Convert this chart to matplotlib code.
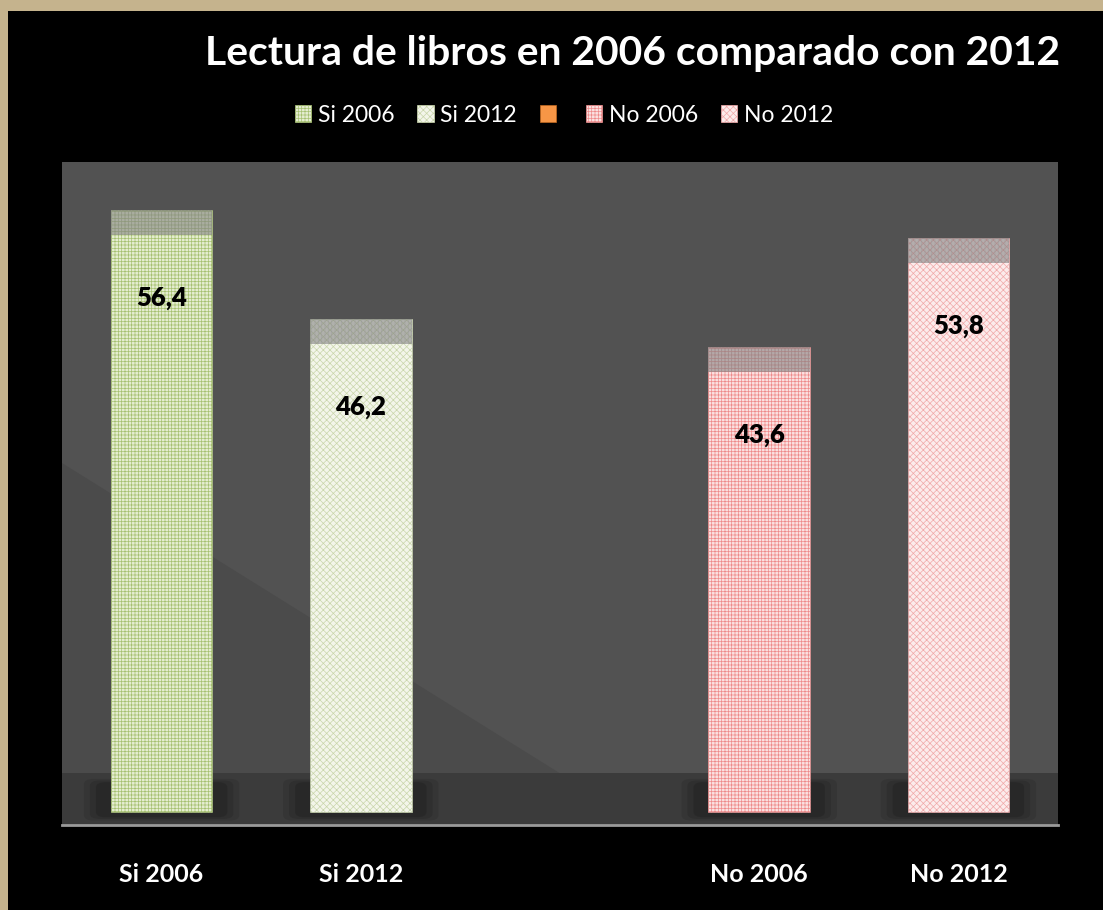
import matplotlib
matplotlib.use('Agg')
import matplotlib.pyplot as plt
from matplotlib.patches import Rectangle, Patch, Polygon, FancyBboxPatch

# data
categories = ['Si 2006', 'Si 2012', '', 'No 2006', 'No 2012']
values = [56.4, 46.2, None, 43.6, 53.8]
legend_labels = ['Si 2006', 'Si 2012', '', 'No 2006', 'No 2012']

face_colors = ['#e4edd0', '#f3f5ea', '#f79646', '#fbe0e0', '#fcebeb']
hatch_colors = ['#a6c070', '#c9d6ab', '#c46a20', '#ee8a8a', '#f0a8a8']
hatches = ['+++++', 'xxxxx', '', '+++++', 'xxxxx']

plt.rcParams['font.family'] = ['Lato', 'DejaVu Sans']
plt.rcParams['hatch.linewidth'] = 0.5

W, H = 1103, 910
fig = plt.figure(figsize=(W / 100, H / 100), dpi=100, facecolor='#c5b38d')

# black panel
fig.patches.append(Rectangle((8 / W, 0), 1 - 8 / W, (H - 11) / H,
                             transform=fig.transFigure, facecolor='black',
                             edgecolor='none', zorder=-10))

ax = fig.add_axes([62 / W, (H - 825) / H, 996 / W, 663 / H])
ax.set_zorder(1)
ax.set_facecolor('#525252')
ax.set_xlim(-0.5, len(categories) - 0.5)
ax.set_ylim(-1.22, 60.9)

# darker diagonal shading and floor
ax.add_patch(Polygon([(0, 0.546), (0.5, 0.078), (0, 0.078)], closed=True,
                     transform=ax.transAxes, facecolor='#4b4b4b',
                     edgecolor='none', zorder=0))
ax.axhspan(-1.22, 3.65, color='#3b3b3b', zorder=0.5, lw=0)

bar_w = 0.51
cap = 2.34
for i, v in enumerate(values):
    if v is None:
        continue
    # soft shadow on the floor
    for k, a in enumerate([0.25, 0.35, 0.55]):
        grow = 0.03 * (2 - k)
        ax.add_patch(FancyBboxPatch((i - 0.31 - grow, -0.3 - grow * 5), 0.62 + 2 * grow,
                                    2.9 + grow * 10,
                                    boxstyle='round,pad=0.02,rounding_size=0.05',
                                    facecolor='#242424', edgecolor='none',
                                    alpha=a, zorder=1, mutation_aspect=10))
    ax.bar(i, v, width=bar_w, color=face_colors[i], edgecolor=hatch_colors[i],
           hatch=hatches[i], linewidth=0.4, zorder=2)
    # top face of the 3d bar
    ax.bar(i, cap, bottom=v - cap, width=bar_w, color='#7a7a7a', alpha=0.55,
           edgecolor='#9a9a9a', hatch='|||||', linewidth=0, zorder=3)
    ax.text(i, v - 8.24, f'{v:.1f}'.replace('.', ','), ha='center', va='center',
            fontsize=18.5, fontweight='heavy', color='black', zorder=4)

ax.set_xticks(range(len(categories)))
ax.set_xticklabels(categories, color='white', fontsize=18, fontweight='bold')
ax.tick_params(axis='x', length=0, pad=27)
ax.set_yticks([])
for s in ['top', 'left', 'right']:
    ax.spines[s].set_visible(False)
ax.spines['bottom'].set_color('#9a9a9a')
ax.spines['bottom'].set_linewidth(2)

fig.text(633 / W, 1 - 54 / H, 'Lectura de libros en 2006 comparado con 2012',
         ha='center', va='center', color='white', fontsize=29.4, fontweight='bold')

handles = [Patch(facecolor=face_colors[i], edgecolor=hatch_colors[i], hatch=hatches[i],
                 linewidth=0.5) for i in range(len(legend_labels))]
leg = fig.legend(handles, legend_labels, loc='center', ncol=5,
                 bbox_to_anchor=(564 / W, 1 - 115 / H), frameon=False,
                 fontsize=16.5, handlelength=0.7, handleheight=0.7,
                 handletextpad=0.3, columnspacing=1.0, labelcolor='white')

fig.savefig('out.png', dpi=100, facecolor=fig.get_facecolor())
plt.close()
